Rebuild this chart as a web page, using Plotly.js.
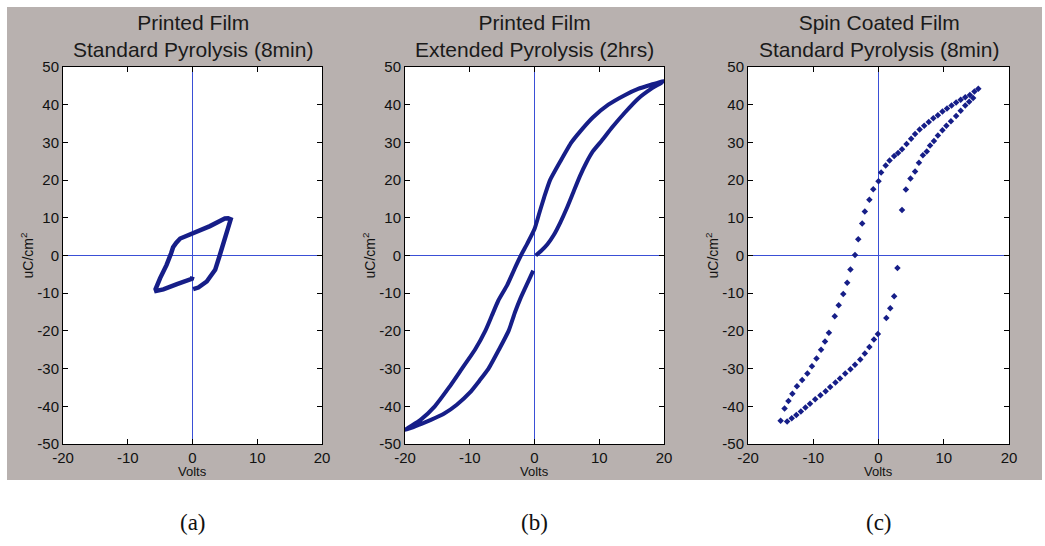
<!DOCTYPE html>
<html>
<head>
<meta charset="utf-8">
<script src="https://cdn.plot.ly/plotly-3.0.1.min.js"></script>
<style>html,body{margin:0;padding:0;background:#fff;}#chart{width:1045px;height:546px;}</style>
</head>
<body>
<div id="chart"></div>
<script>
// ---- Data ----
const panelTitles = [
  "Printed Film<br>Standard Pyrolysis (8min)",
  "Printed Film<br>Extended Pyrolysis (2hrs)",
  "Spin Coated Film<br>Standard Pyrolysis (8min)"
];
const captions = ["(a)", "(b)", "(c)"];
const xTickVals = [-20, -10, 0, 10, 20];
const xTickText = ["-20", "-10", "0", "10", "20"];
const yTickVals = [-50, -40, -30, -20, -10, 0, 10, 20, 30, 40, 50];
const yTickText = ["-50", "-40", "-30", "-20", "-10", "0", "10", "20", "30", "40", "50"];

// (a) printed film, standard pyrolysis
const aVolts = [0.1, 0.9, 2.2, 3.5, 4.2, 5.0, 5.6, 5.9, 5.5, 5.0, 2.7, 0.7, -0.1, -1.0, -1.9, -2.5, -3.0, -3.3, -4.0, -5.0, -5.7, -5.6, -4.5, -2.4, -0.1, 0.0];
const aCharge = [-8.9, -8.5, -6.9, -3.8, 0.0, 5.0, 8.4, 9.6, 9.9, 9.8, 7.8, 6.3, 5.9, 5.3, 4.5, 3.4, 2.2, 0.6, -2.5, -6.0, -8.9, -9.4, -9.0, -7.6, -6.2, -5.6];

// (b) printed film, extended pyrolysis
const bVolts = [0.2, 1.0, 2.0, 3.0, 4.0, 5.0, 6.0, 7.0, 8.0, 9.0, 10.4, 12.0, 14.0, 16.0, 18.0, 20.0,
  18.0, 16.0, 14.0, 11.4, 9.0, 7.0, 5.7, 4.0, 2.4, 1.5, 0.7, 0.0, -1.1, -2.1, -3.1, -4.2, -5.6, -6.6, -7.6, -9.2, -11.2, -13.2, -15.4, -17.6, -20.0,
  -18.0, -16.0, -14.0, -12.0, -10.0, -8.5, -7.1, -5.5, -4.0, -3.0, -2.2, -1.0, -0.2];
const bCharge = [0.0, 1.2, 3.0, 5.5, 8.8, 12.6, 16.8, 21.0, 24.6, 27.6, 30.5, 34.0, 38.0, 41.6, 44.2, 46.3,
  45.3, 44.2, 42.6, 40.0, 36.6, 32.8, 30.0, 25.0, 20.0, 15.5, 11.0, 7.0, 3.2, 0.0, -3.6, -7.8, -12.0, -16.0, -20.0, -25.0, -30.0, -35.0, -40.0, -43.6, -46.3,
  -45.0, -43.6, -42.0, -39.6, -36.4, -33.2, -30.0, -25.0, -20.0, -15.0, -11.5, -7.0, -4.0];

// (c) spin coated film, standard pyrolysis (individual samples)
const cVolts = [15.3, 14.7, 14.0, 13.3, 12.6, 11.9, 11.2, 10.5, 9.8, 9.1, 8.4, 7.7, 7.0, 6.3, 5.6, 5.0, 4.3, 3.6, 3.0, 2.4, 1.7, 1.1, 0.4, 0.0, -0.8, -1.4, -2.1, -2.5, -3.1, -3.6, -4.3, -4.8, -5.4, -6.1, -6.7, -7.6, -8.2, -8.8, -9.5, -10.2, -10.9, -11.7, -12.5, -13.2, -13.8, -14.4, -15.0,
  -14.0, -13.3, -12.6, -11.9, -11.2, -10.5, -9.7, -8.9, -8.1, -7.4, -6.6, -5.9, -5.1, -4.3, -3.6, -2.8, -2.1, -1.4, -0.7, -0.1, 1.2, 1.8, 2.4, 2.9, 3.6, 4.2, 4.9, 5.6, 6.2, 6.8, 7.4, 7.9, 8.5, 9.1, 9.8, 10.4, 11.1, 11.9, 12.6, 13.3, 13.9, 14.5];
const cCharge = [44.2, 43.5, 42.6, 42.0, 41.3, 40.6, 39.8, 39.0, 38.2, 37.2, 36.4, 35.4, 34.4, 33.4, 32.2, 31.0, 29.6, 28.2, 27.2, 26.4, 25.2, 23.9, 22.0, 19.7, 17.6, 14.8, 11.7, 8.5, 4.3, 0.1, -3.7, -7.2, -10.2, -13.2, -16.1, -20.5, -22.8, -25.0, -27.3, -29.4, -31.3, -33.0, -34.7, -36.7, -38.6, -40.6, -43.8,
  -44.0, -43.2, -42.3, -41.4, -40.3, -39.3, -38.1, -37.1, -36.0, -34.9, -33.7, -32.6, -31.3, -30.2, -29.0, -27.6, -26.0, -24.3, -22.3, -20.8, -16.6, -14.0, -10.8, -3.3, 12.1, 17.5, 20.4, 22.3, 24.6, 26.6, 27.6, 29.2, 30.4, 31.8, 33.2, 34.4, 35.6, 37.0, 38.4, 39.8, 40.8, 41.8];

// ---- Styling ----
const navy = "#161e88";
const zeroBlue = "#3a4fd6";
const font = "Liberation Sans, Arial, sans-serif";
const xDomains = [[63/1045, 322/1045], [405/1045, 664/1045], [748/1045, 1009/1045]];
const yDomain = [1 - 444/546, 1 - 67/546];

const traces = [
  {x: aVolts, y: aCharge, xaxis: "x", yaxis: "y", mode: "lines", line: {color: navy, width: 4.5}, hoverinfo: "x+y"},
  {x: bVolts, y: bCharge, xaxis: "x2", yaxis: "y2", mode: "lines", line: {color: navy, width: 4, shape: "spline", smoothing: 0.5}, hoverinfo: "x+y"},
  {x: cVolts, y: cCharge, xaxis: "x3", yaxis: "y3", mode: "markers", marker: {color: navy, size: 5, symbol: "diamond"}, hoverinfo: "x+y"}
];

function xa(i) {
  return {domain: xDomains[i], range: [-20, 20], tickvals: xTickVals, ticktext: xTickText, tickmode: "array",
    ticks: "inside", ticklen: 5, tickcolor: "#000",
    showline: true, linecolor: "#000", linewidth: 1, mirror: "ticks", showgrid: false, zeroline: false,
    anchor: i === 0 ? "y" : "y" + (i + 1),
    tickfont: {family: font, size: 15, color: "#111"}, fixedrange: true};
}
function ya(i) {
  return {domain: yDomain, range: [-50, 50], tickvals: yTickVals, ticktext: yTickText, tickmode: "array",
    ticks: "inside", ticklen: 5, tickcolor: "#000",
    showline: true, linecolor: "#000", linewidth: 1, mirror: "ticks", showgrid: false, zeroline: false,
    anchor: i === 0 ? "x" : "x" + (i + 1),
    tickfont: {family: font, size: 15, color: "#111"}, fixedrange: true};
}

const shapes = [{type: "rect", xref: "paper", yref: "paper", x0: 7/1045, x1: 1042/1045, y0: 1 - 480/546, y1: 1 - 7/546,
  fillcolor: "#b8b1af", line: {width: 0}, layer: "below"}];
const annotations = [];
for (let i = 0; i < 3; i++) {
  const xr = i === 0 ? "x" : "x" + (i + 1);
  const yr = i === 0 ? "y" : "y" + (i + 1);
  shapes.push({type: "rect", xref: xr, yref: yr, x0: -20, x1: 20, y0: -50, y1: 50, fillcolor: "#ffffff", line: {width: 0}, layer: "below"});
  shapes.push({type: "line", xref: xr, yref: yr, x0: -20, x1: 20, y0: 0, y1: 0, line: {color: zeroBlue, width: 1}, layer: "below"});
  shapes.push({type: "line", xref: xr, yref: yr, x0: 0, x1: 0, y0: -50, y1: 50, line: {color: zeroBlue, width: 1}, layer: "below"});

  const cx = (xDomains[i][0] + xDomains[i][1]) / 2;
  annotations.push({text: panelTitles[i], xref: "paper", yref: "paper", x: cx, y: 1 - 36/546, xanchor: "center", yanchor: "middle",
    showarrow: false, font: {family: font, size: 21, color: "#1a1a1a"}});
  annotations.push({text: "Volts", xref: "paper", yref: "paper", x: cx, y: 1 - 471/546, xanchor: "center", yanchor: "middle",
    showarrow: false, font: {family: font, size: 13, color: "#111"}});
  annotations.push({text: "uC/cm<sup>2</sup>", xref: "paper", yref: "paper", x: xDomains[i][0] - 36/1045, y: (yDomain[0] + yDomain[1]) / 2,
    xanchor: "center", yanchor: "middle", textangle: -90, showarrow: false, font: {family: font, size: 14, color: "#111"}});
  annotations.push({text: captions[i], xref: "paper", yref: "paper", x: cx, y: 1 - 522/546, xanchor: "center", yanchor: "middle",
    showarrow: false, font: {family: "Liberation Serif, Times New Roman, serif", size: 23, color: "#111"}});
}

const layout = {
  width: 1045, height: 546,
  margin: {l: 0, r: 0, t: 0, b: 0},
  paper_bgcolor: "#ffffff", plot_bgcolor: "#ffffff",
  showlegend: false,
  xaxis: xa(0), yaxis: ya(0), xaxis2: xa(1), yaxis2: ya(1), xaxis3: xa(2), yaxis3: ya(2),
  shapes: shapes,
  annotations: annotations
};

Plotly.newPlot("chart", traces, layout, {displayModeBar: false, staticPlot: true});
</script>
</body>
</html>
